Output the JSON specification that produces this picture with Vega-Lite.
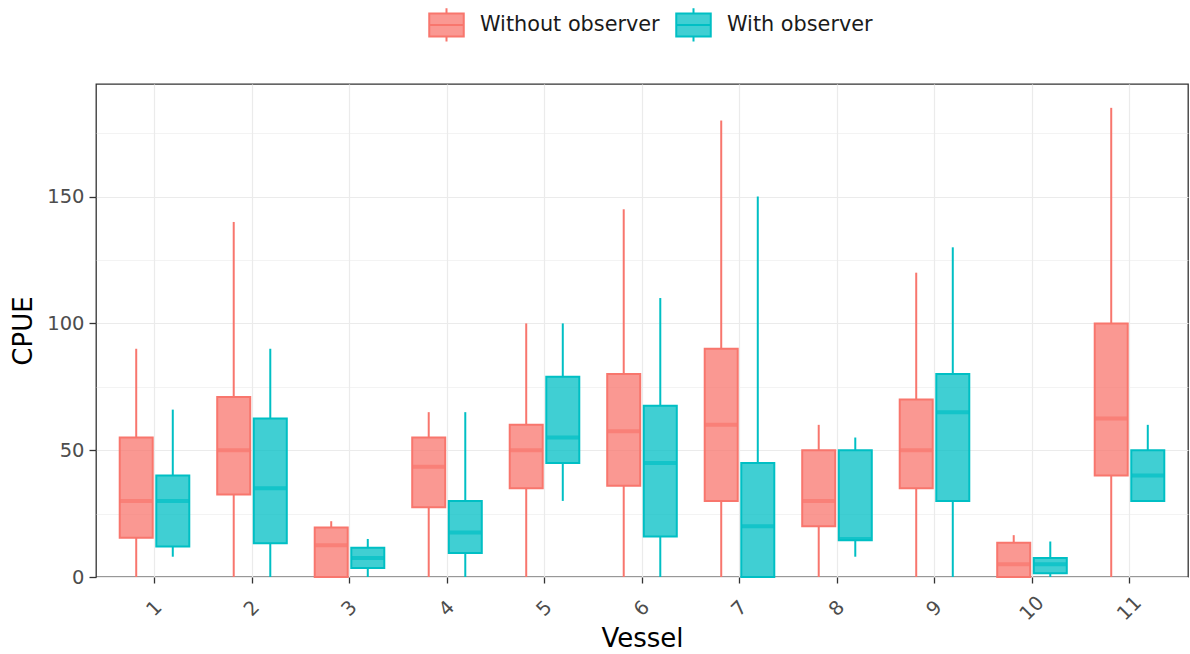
{
  "$schema": "https://vega.github.io/schema/vega-lite/v6.json",
  "width": 1092,
  "height": 493,
  "autosize": {"type": "none"},
  "padding": {"left": 96, "top": 84, "right": 2, "bottom": 77},
  "background": "white",
  "config": {
    "font": "DejaVu Sans",
    "view": {"stroke": "#333333", "strokeWidth": 1.3}
  },
  "data": {
    "values": [
      {"vessel": "1", "group": "Without observer", "min": 0, "q1": 15.5, "median": 30, "q3": 55, "max": 90},
      {"vessel": "1", "group": "With observer", "min": 8, "q1": 12, "median": 30, "q3": 40, "max": 66},
      {"vessel": "2", "group": "Without observer", "min": 0, "q1": 32.5, "median": 50, "q3": 71, "max": 140},
      {"vessel": "2", "group": "With observer", "min": 0, "q1": 13.3, "median": 35, "q3": 62.5, "max": 90},
      {"vessel": "3", "group": "Without observer", "min": 0, "q1": 0, "median": 12.5, "q3": 19.5, "max": 22},
      {"vessel": "3", "group": "With observer", "min": 0, "q1": 3.5, "median": 7.5, "q3": 11.5, "max": 15},
      {"vessel": "4", "group": "Without observer", "min": 0, "q1": 27.5, "median": 43.5, "q3": 55, "max": 65},
      {"vessel": "4", "group": "With observer", "min": 0, "q1": 9.5, "median": 17.5, "q3": 30, "max": 65},
      {"vessel": "5", "group": "Without observer", "min": 0, "q1": 35, "median": 50, "q3": 60, "max": 100},
      {"vessel": "5", "group": "With observer", "min": 30, "q1": 45, "median": 55, "q3": 79, "max": 100},
      {"vessel": "6", "group": "Without observer", "min": 0, "q1": 36, "median": 57.5, "q3": 80, "max": 145},
      {"vessel": "6", "group": "With observer", "min": 0, "q1": 16, "median": 45, "q3": 67.5, "max": 110},
      {"vessel": "7", "group": "Without observer", "min": 0, "q1": 30, "median": 60, "q3": 90, "max": 180},
      {"vessel": "7", "group": "With observer", "min": 0, "q1": 0, "median": 20, "q3": 45, "max": 150},
      {"vessel": "8", "group": "Without observer", "min": 0, "q1": 20, "median": 30, "q3": 50, "max": 60},
      {"vessel": "8", "group": "With observer", "min": 8, "q1": 14.5, "median": 15, "q3": 50, "max": 55},
      {"vessel": "9", "group": "Without observer", "min": 0, "q1": 35, "median": 50, "q3": 70, "max": 120},
      {"vessel": "9", "group": "With observer", "min": 0, "q1": 30, "median": 65, "q3": 80, "max": 130},
      {"vessel": "10", "group": "Without observer", "min": 0, "q1": 0, "median": 5, "q3": 13.5, "max": 16.5},
      {"vessel": "10", "group": "With observer", "min": 0, "q1": 1.5, "median": 5, "q3": 7.5, "max": 14},
      {"vessel": "11", "group": "Without observer", "min": 0, "q1": 40, "median": 62.5, "q3": 100, "max": 185},
      {"vessel": "11", "group": "With observer", "min": 30, "q1": 30, "median": 40, "q3": 50, "max": 60}
    ]
  },
  "encoding": {
    "x": {
      "field": "vessel",
      "type": "nominal",
      "sort": ["1", "2", "3", "4", "5", "6", "7", "8", "9", "10", "11"],
      "scale": {"paddingInner": 0.25, "paddingOuter": 0.225},
      "axis": {
        "title": "Vessel",
        "titleFontSize": 26,
        "titleFontWeight": "normal",
        "titleColor": "#000000",
        "titlePadding": 2,
        "labelAngle": -45,
        "labelAlign": "center",
        "labelBaseline": "middle",
        "labelPadding": 25,
        "labelFontSize": 19.5,
        "labelColor": "#4D4D4D",
        "bandPosition": 0.5,
        "grid": true,
        "gridColor": "#EBEBEB",
        "gridWidth": 1.2,
        "domain": false,
        "tickColor": "#333333",
        "tickWidth": 1.3,
        "tickSize": 6
      }
    },
    "xOffset": {
      "field": "group",
      "type": "nominal",
      "sort": ["Without observer", "With observer"],
      "scale": {"paddingInner": 0, "paddingOuter": 0}
    },
    "color": {
      "field": "group",
      "type": "nominal",
      "sort": ["Without observer", "With observer"],
      "scale": {"domain": ["Without observer", "With observer"], "range": ["#F8766D", "#00BFC4"]},
      "legend": {
        "title": null,
        "orient": "none",
        "legendX": 338,
        "legendY": -72,
        "direction": "horizontal",
        "symbolType": "M-1.5,-1H1.5V1H-1.5Z M-1.5,0H1.5 M0,-1V-1.45 M0,1V1.45",
        "symbolSize": 529,
        "symbolStrokeWidth": 2,
        "symbolOpacity": 1,
        "labelFontSize": 20.8,
        "labelLimit": 0,
        "labelColor": "#1A1A1A",
        "labelOffset": 21,
        "columnPadding": 12,
        "encode": {
          "symbols": {
            "update": {
              "fill": {"scale": "color", "field": "value"},
              "fillOpacity": {"value": 0.75},
              "stroke": {"scale": "color", "field": "value"},
              "strokeWidth": {"value": 2}
            }
          }
        }
      }
    }
  },
  "layer": [
    {
      "mark": {"type": "rule", "strokeWidth": 2},
      "encoding": {
        "y": {
          "field": "min",
          "type": "quantitative",
          "title": "CPUE",
          "scale": {"domain": [0, 194.4], "nice": false, "zero": true},
          "axis": {
            "values": [0, 25, 50, 75, 100, 125, 150, 175],
            "labelExpr": "datum.value % 50 === 0 ? datum.label : ''",
            "titleFontSize": 26,
            "titleFontWeight": "normal",
            "titleColor": "#000000",
            "titlePadding": 10,
            "labelFontSize": 19.5,
            "labelColor": "#4D4D4D",
            "labelPadding": 5,
            "grid": true,
            "gridColor": "#EBEBEB",
            "gridWidth": {"condition": {"test": "datum.value % 50 === 0", "value": 1.2}, "value": 0.6},
            "domain": false,
            "tickColor": "#333333",
            "tickWidth": 1.3,
            "tickSize": 7,
            "tickOpacity": {"condition": {"test": "datum.value % 50 === 0", "value": 1}, "value": 0}
          }
        },
        "y2": {"field": "q1"}
      }
    },
    {
      "mark": {"type": "rule", "strokeWidth": 2},
      "encoding": {
        "y": {"field": "q3", "type": "quantitative", "title": "CPUE"},
        "y2": {"field": "max"}
      }
    },
    {
      "mark": {"type": "bar", "width": 33, "fillOpacity": 0.75, "strokeWidth": 2},
      "encoding": {
        "y": {"field": "q1", "type": "quantitative", "title": "CPUE"},
        "y2": {"field": "q3"},
        "stroke": {
          "field": "group",
          "type": "nominal",
          "scale": {"domain": ["Without observer", "With observer"], "range": ["#F8766D", "#00BFC4"]},
          "legend": null
        }
      }
    },
    {
      "mark": {"type": "tick", "thickness": 4, "size": 33},
      "encoding": {
        "y": {"field": "median", "type": "quantitative", "title": "CPUE"}
      }
    }
  ]
}
